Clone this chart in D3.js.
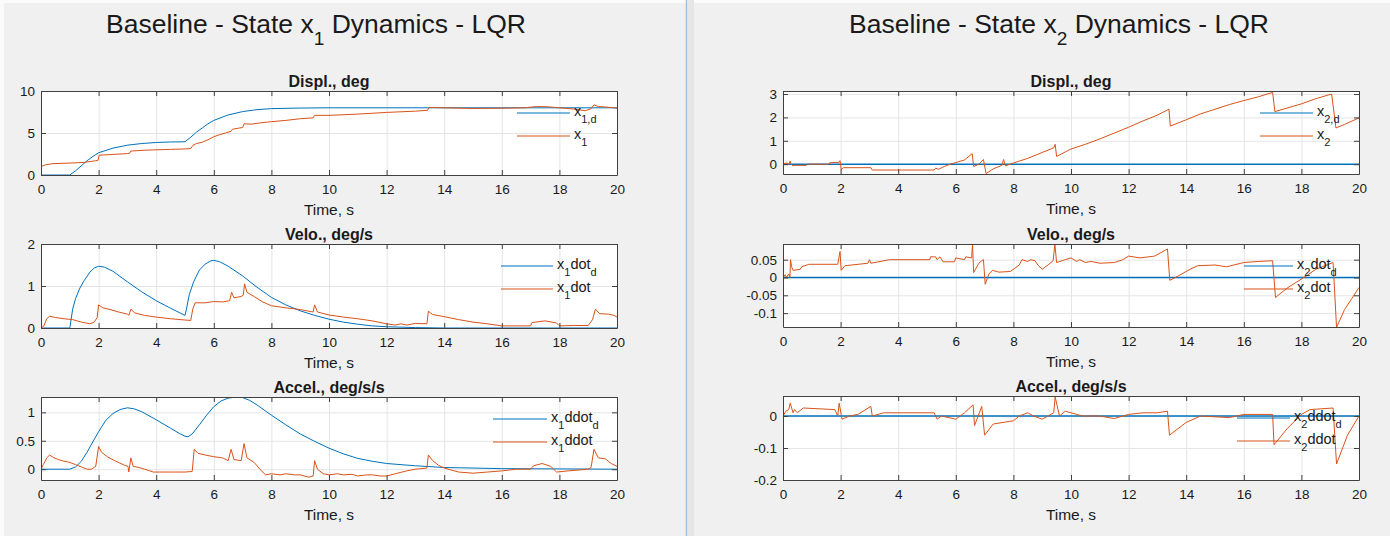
<!DOCTYPE html>
<html>
<head>
<meta charset="utf-8">
<script src="https://cdn.jsdelivr.net/npm/d3@7"></script>
<style>
  body { margin: 0; background: #f0f0f0; }
  text { font-family: "Liberation Sans", Arial, Helvetica, sans-serif; fill: #1a1a1a; }
</style>
</head>
<body>
<svg id="fig"></svg>
<script>
// ---- data: [time s, value] ----
var xTicks = [0, 2, 4, 6, 8, 10, 12, 14, 16, 18, 20];

var x1d_disp = [[0,0],[1,0],[1.2,0.5],[1.4,1.1],[1.6,1.7],[1.8,2.2],[2,2.65],[2.5,3.2],[3,3.55],[3.5,3.75],[4,3.87],[4.5,3.93],[5,3.96],
  [5.2,4.5],[5.4,5.1],[5.6,5.6],[5.8,6.1],[6,6.5],[6.5,7.15],[7,7.55],[7.5,7.78],[8,7.9],[9,7.97],[10,8.0],[20,8.0]];
var x1_disp = [[0,1.0],[0.15,1.2],[0.4,1.35],[1.0,1.42],[1.5,1.5],[1.9,1.7],[1.98,1.75],[2.02,2.35],[2.5,2.45],[3.0,2.55],[3.08,2.6],[3.12,2.85],
  [3.6,2.95],[4.0,3.0],[4.5,3.05],[5.0,3.1],[5.2,3.15],[5.28,3.55],[5.4,3.75],[5.6,3.9],[5.8,4.2],[6.0,4.55],[6.2,4.8],[6.4,5.0],[6.6,5.2],
  [6.65,5.45],[6.9,5.6],[7.0,5.65],[7.05,6.1],[7.3,6.05],[7.6,6.2],[8.0,6.35],[8.5,6.5],[9.0,6.7],[9.45,6.8],[9.5,7.1],[10,7.1],[11,7.25],
  [12,7.45],[13,7.6],[13.42,7.7],[13.48,8.05],[14,8.0],[15,7.92],[16,7.95],[16.8,8.0],[17.2,8.15],[17.6,8.12],[18.0,8.0],[18.5,7.85],
  [18.9,7.65],[19.1,7.9],[19.2,8.35],[19.35,8.15],[19.6,8.1],[20,7.95]];

var x1d_velo = [[0,0],[1,0],[1.1,0.45],[1.2,0.7],[1.35,0.95],[1.5,1.13],[1.7,1.33],[1.85,1.43],[2.0,1.47],[2.2,1.45],[2.5,1.35],[3.0,1.1],
  [3.5,0.86],[4.0,0.65],[4.5,0.47],[5.0,0.3],[5.05,0.45],[5.15,0.8],[5.3,1.1],[5.5,1.38],[5.7,1.52],[5.9,1.6],[6.0,1.61],[6.2,1.58],
  [6.5,1.47],[7.0,1.24],[7.5,0.97],[8.0,0.73],[8.5,0.55],[9.0,0.41],[9.5,0.3],[10,0.21],[10.5,0.14],[11,0.09],[11.5,0.05],[12,0.03],
  [13,0.01],[14,0],[20,0]];
var x1_velo = [[0,0],[0.1,0.05],[0.2,0.22],[0.3,0.28],[0.5,0.25],[0.8,0.22],[1.1,0.2],[1.4,0.14],[1.7,0.1],[1.85,0.14],[1.95,0.25],[2.0,0.55],
  [2.15,0.48],[2.4,0.44],[2.7,0.38],[3.0,0.33],[3.05,0.3],[3.12,0.45],[3.25,0.36],[3.6,0.3],[4.0,0.26],[4.5,0.22],[5.0,0.19],[5.2,0.18],
  [5.27,0.45],[5.35,0.6],[5.7,0.6],[6.0,0.63],[6.3,0.62],[6.55,0.65],[6.62,0.85],[6.7,0.72],[6.95,0.75],[7.02,0.78],[7.07,1.05],[7.15,0.85],
  [7.4,0.75],[7.7,0.62],[8.0,0.53],[8.5,0.48],[9.0,0.44],[9.45,0.38],[9.5,0.55],[9.6,0.38],[10,0.31],[10.5,0.26],[11,0.22],[11.5,0.17],
  [12,0.1],[12.3,0.07],[12.5,0.1],[12.7,0.07],[13,0.11],[13.4,0.1],[13.45,0.4],[13.6,0.32],[14,0.27],[14.5,0.2],[15,0.14],[15.5,0.1],[16,0.05],[16.5,0.05],
  [17.0,0.05],[17.05,0.13],[17.5,0.17],[17.9,0.12],[18.0,0.05],[18.5,0.06],[19.0,0.06],[19.15,0.2],[19.25,0.45],[19.4,0.34],[19.7,0.33],
  [19.9,0.3],[20,0.26]];

var x1d_accel = [[0,0],[1,0],[1.2,0.04],[1.4,0.14],[1.6,0.3],[1.8,0.48],[2.0,0.66],[2.25,0.86],[2.5,0.98],[2.75,1.05],[3.0,1.08],[3.25,1.06],
  [3.5,1.01],[4.0,0.87],[4.5,0.72],[4.8,0.63],[5.0,0.58],[5.1,0.57],[5.25,0.62],[5.5,0.78],[5.75,0.95],[6.0,1.1],[6.25,1.2],[6.5,1.25],
  [6.8,1.27],[7.0,1.26],[7.25,1.21],[7.5,1.13],[8.0,0.95],[8.5,0.78],[9.0,0.62],[9.5,0.49],[10,0.37],[10.5,0.27],[11,0.19],[11.5,0.14],
  [12,0.1],[13,0.06],[14,0.03],[15,0.02],[16,0.01],[18,0.005],[20,0]];
var x1_accel = [[0,0],[0.08,0.08],[0.2,0.2],[0.3,0.25],[0.45,0.2],[0.6,0.17],[0.8,0.14],[1.0,0.12],[1.2,0.08],[1.4,0.04],[1.6,0.0],[1.75,0.0],
  [1.9,0.05],[2.0,0.4],[2.1,0.3],[2.3,0.22],[2.6,0.14],[2.9,0.07],[3.02,0.05],[3.05,-0.05],[3.12,0.2],[3.2,0.05],[3.4,0.03],[3.6,0.0],
  [3.9,-0.05],[4.5,-0.05],[5.0,-0.05],[5.25,-0.04],[5.32,0.35],[5.45,0.28],[5.7,0.25],[6.0,0.22],[6.3,0.2],[6.5,0.15],[6.6,0.35],[6.7,0.17],
  [6.95,0.15],[7.05,0.45],[7.15,0.2],[7.4,0.12],[7.6,0.0],[7.8,-0.1],[8.0,-0.08],[8.3,-0.1],[8.5,-0.08],[8.8,-0.1],[9.0,-0.1],[9.3,-0.14],[9.45,-0.12],[9.5,0.15],
  [9.6,0.0],[9.8,-0.08],[10,-0.1],[10.3,-0.08],[10.5,-0.1],[10.8,-0.09],[11,-0.12],[11.3,-0.1],[11.5,-0.1],[11.8,-0.12],[12,-0.12],[12.3,-0.08],[12.7,-0.03],[13,0.0],[13.4,0.02],[13.45,0.25],
  [13.6,0.15],[13.8,0.07],[14,0.02],[14.5,-0.05],[15,-0.07],[15.5,-0.05],[16,-0.03],[16.5,0.0],[17,0.0],[17.1,0.06],[17.4,0.1],[17.7,0.05],
  [17.9,-0.05],[18.3,-0.03],[19,0.0],[19.1,0.03],[19.2,0.35],[19.35,0.2],[19.6,0.18],[19.8,0.1],[20,0.05]];

var x2d_zero = [[0,0],[20,0]];
var x2_disp = [[0,0.02],[0.15,0.05],[0.2,0.0],[0.25,0.13],[0.28,0.0],[0.32,-0.05],[0.8,-0.05],[0.85,0.0],[1.6,0.0],[1.62,0.06],[1.95,0.08],
  [1.98,0.15],[2.02,-0.22],[2.1,-0.15],[3.05,-0.15],[3.1,-0.25],[5.25,-0.25],[5.3,-0.17],[5.4,-0.22],[5.6,-0.1],[5.8,0.0],[6.0,0.07],
  [6.3,0.18],[6.57,0.45],[6.62,-0.1],[6.8,0.0],[6.96,0.2],[7.05,-0.4],[7.3,-0.2],[7.6,-0.05],[7.66,0.2],[7.72,-0.07],[8.0,0.05],[8.5,0.25],
  [9.0,0.5],[9.4,0.7],[9.45,0.85],[9.5,0.33],[10,0.65],[10.5,0.85],[11,1.08],[11.5,1.33],[12,1.58],[12.5,1.85],[13,2.1],[13.4,2.35],
  [13.45,1.63],[14,1.9],[14.5,2.15],[15,2.35],[15.5,2.55],[16,2.72],[16.5,2.88],[17.0,3.07],[17.08,2.25],[17.5,2.4],[18,2.58],[18.5,2.8],
  [19.05,3.0],[19.2,1.55],[19.5,1.7],[20,1.98]];
var x2_velo = [[0,0],[0.08,0.008],[0.12,0.0],[0.2,0.01],[0.24,0.0],[0.26,0.05],[0.3,0.03],[0.35,0.02],[0.6,0.023],[0.65,0.03],[0.9,0.037],
  [1.9,0.037],[1.98,0.073],[2.02,0.02],[2.15,0.033],[2.95,0.04],[3.0,0.05],[3.05,0.04],[3.7,0.05],[5.1,0.05],[5.12,0.058],[5.3,0.058],
  [5.35,0.05],[5.45,0.058],[5.56,0.044],[5.95,0.044],[6.0,0.055],[6.3,0.05],[6.35,0.058],[6.55,0.055],[6.58,0.094],[6.62,0.014],[6.8,0.04],
  [6.9,0.047],[6.96,0.05],[7.02,-0.019],[7.15,0.01],[7.27,0.02],[7.5,0.015],[7.9,0.017],[8.2,0.035],[8.3,0.05],[8.5,0.045],[8.6,0.05],[8.75,0.047],[8.85,0.035],
  [9.0,0.023],[9.2,0.035],[9.38,0.047],[9.44,0.094],[9.5,0.042],[9.8,0.05],[10,0.055],[10.2,0.045],[10.3,0.05],[10.5,0.042],[10.7,0.045],[11,0.04],[11.5,0.042],[11.8,0.05],[12,0.06],[12.4,0.055],[12.9,0.06],
  [13.35,0.08],[13.43,-0.008],[13.74,0.005],[14.13,0.023],[14.4,0.033],[15,0.035],[15.4,0.03],[16,0.042],[16.5,0.045],[17,0.047],[17.1,-0.056],[17.5,-0.03],
  [18.18,0.005],[18.5,0.023],[19.1,0.042],[19.22,-0.14],[19.5,-0.09],[20,-0.028]];
var x2_accel = [[0,0],[0.1,0.015],[0.2,0.02],[0.25,0.04],[0.35,0.01],[0.4,0.02],[0.5,0.01],[0.7,0.025],[1.8,0.02],[1.9,0.0],[1.95,0.04],
  [2.05,-0.01],[2.3,0.0],[2.6,0.005],[3.05,0.03],[3.1,0.0],[3.5,0.01],[5.25,0.01],[5.35,-0.01],[5.5,0.0],[6.0,-0.01],[6.3,0.01],[6.6,0.035],
  [6.65,-0.03],[6.9,0.03],[7.0,-0.06],[7.3,-0.025],[8.0,-0.015],[8.2,0.0],[8.5,0.01],[8.7,0.0],[9.0,-0.01],[9.4,0.01],[9.45,0.06],[9.6,0.0],[9.8,0.015],[10,0.01],[10.4,0.0],[11,0.0],
  [11.5,-0.008],[12,0.005],[12.5,0.01],[13,0.01],[13.35,0.015],[13.42,-0.06],[14,-0.02],[14.5,0.0],[15.5,-0.005],[16,0.005],[17,0.005],[17.05,-0.09],[17.5,-0.04],[18,0.005],[18.3,0.02],
  [19.1,0.025],[19.22,-0.15],[19.6,-0.06],[20,0.0]];

var blue = "#0072BD", orange = "#D95319";

var W = 1390, H = 536;
var svg = d3.select('#fig').attr('width', W).attr('height', H);

svg.append('rect').attr('width', W).attr('height', H).attr('fill', '#f0f0f0');
svg.append('rect').attr('width', W).attr('height', 3).attr('fill', '#fbfbfb');
svg.append('rect').attr('width', 4).attr('height', H).attr('fill', '#fbfbfb');
svg.append('rect').attr('x', 688).attr('width', 6).attr('height', H).attr('fill', '#e6e6e6');
svg.append('line').attr('x1', 686.5).attr('x2', 686.5).attr('y1', 0).attr('y2', H)
  .attr('stroke', '#9fbfdc').attr('stroke-width', 1.5);

var panels = [
  { cx: 316, sub: '1', x0: 41, x1: 617, plots: [
    { top: 91, bottom: 175, title: 'Displ., deg', dom: [0, 10], ticks: [0, 5, 10],
      series: [x1d_disp, x1_disp], labels: [[['x'], ['1,d', 1]], [['x'], ['1', 1]]], lw: 53, lx: 47 },
    { top: 244, bottom: 328, title: 'Velo., deg/s', dom: [0, 2], ticks: [0, 1, 2],
      series: [x1d_velo, x1_velo], labels: [[['x'], ['1', 1], ['dot'], ['d', 1]], [['x'], ['1', 1], ['dot']]], lw: 52, lx: 64 },
    { top: 397, bottom: 480, title: 'Accel., deg/s/s', dom: [-0.19, 1.27], ticks: [0, 0.5, 1],
      series: [x1d_accel, x1_accel], labels: [[['x'], ['1', 1], ['ddot'], ['d', 1]], [['x'], ['1', 1], ['ddot']]], lw: 54, lx: 70 }
  ]},
  { cx: 1059, sub: '2', x0: 783, x1: 1359, plots: [
    { top: 91, bottom: 174, title: 'Displ., deg', dom: [-0.42, 3.13], ticks: [0, 1, 2, 3],
      series: [x2d_zero, x2_disp], labels: [[['x'], ['2,d', 1]], [['x'], ['2', 1]]], lw: 53, lx: 46 },
    { top: 244, bottom: 327, title: 'Velo., deg/s', dom: [-0.139, 0.094], ticks: [-0.1, -0.05, 0, 0.05],
      series: [x2d_zero, x2_velo], labels: [[['x'], ['2', 1], ['dot'], ['d', 1]], [['x'], ['2', 1], ['dot']]], lw: 49, lx: 66 },
    { top: 396, bottom: 480, title: 'Accel., deg/s/s', dom: [-0.2, 0.0625], ticks: [-0.2, -0.1, 0],
      series: [x2d_zero, x2_accel], labels: [[['x'], ['2', 1], ['ddot'], ['d', 1]], [['x'], ['2', 1], ['ddot']]], lw: 53, lx: 69 }
  ]}
];

function addRich(sel, parts, subSize, shift) {
  var cur = 0;
  parts.forEach(function(p) {
    var dy = p[1] ? shift - cur : -cur;
    var t = sel.append('tspan').text(p[0]).attr('dy', dy);
    if (p[1]) t.attr('font-size', subSize);
    cur = p[1] ? shift : 0;
  });
}

var clipId = 0;
panels.forEach(function(pan) {
  var title = svg.append('text').attr('x', pan.cx).attr('y', 33)
    .attr('text-anchor', 'middle').attr('font-size', 26.5);
  addRich(title, [['Baseline - State x'], [pan.sub, 1], [' Dynamics - LQR']], 19, 12);

  pan.plots.forEach(function(p) {
    var x = d3.scaleLinear().domain([0, 20]).range([pan.x0, pan.x1]);
    var y = d3.scaleLinear().domain(p.dom).range([p.bottom, p.top]);
    var g = svg.append('g');
    var h = p.bottom - p.top;

    g.append('rect').attr('x', pan.x0).attr('y', p.top)
      .attr('width', pan.x1 - pan.x0).attr('height', h).attr('fill', '#fff');

    // grid
    g.append('g').attr('transform', 'translate(0,' + p.bottom + ')')
      .call(d3.axisBottom(x).tickValues(xTicks).tickSize(-h).tickFormat(''))
      .call(function(a) { a.select('.domain').remove(); a.selectAll('line').attr('stroke', '#e5e5e5'); });
    g.append('g').attr('transform', 'translate(' + pan.x0 + ',0)')
      .call(d3.axisLeft(y).tickValues(p.ticks).tickSize(-(pan.x1 - pan.x0)).tickFormat(''))
      .call(function(a) { a.select('.domain').remove(); a.selectAll('line').attr('stroke', '#e5e5e5'); });

    // lines
    var cid = 'c' + (clipId++);
    svg.append('clipPath').attr('id', cid).append('rect')
      .attr('x', pan.x0).attr('y', p.top).attr('width', pan.x1 - pan.x0).attr('height', h);
    var line = d3.line().x(function(d) { return x(d[0]); }).y(function(d) { return y(d[1]); });
    var cols = [blue, orange];
    p.series.forEach(function(s, i) {
      g.append('path').datum(s).attr('d', line).attr('fill', 'none')
        .attr('stroke', cols[i]).attr('stroke-width', s === x2d_zero ? 1.6 : 1)
        .attr('clip-path', 'url(#' + cid + ')');
    });

    // box with inward ticks on all sides
    function style(a) {
      a.select('.domain').attr('stroke', '#404040');
      a.selectAll('.tick line').attr('stroke', '#404040');
      a.selectAll('text').attr('font-family', '"Liberation Sans", Arial, sans-serif')
        .attr('font-size', 13.5).attr('fill', '#262626');
    }
    g.append('g').attr('transform', 'translate(0,' + p.bottom + ')')
      .call(d3.axisBottom(x).tickValues(xTicks).tickSizeInner(-5).tickSizeOuter(0).tickPadding(9).tickFormat(String))
      .call(style);
    g.append('g').attr('transform', 'translate(0,' + p.top + ')')
      .call(d3.axisTop(x).tickValues(xTicks).tickSizeInner(-5).tickSizeOuter(0).tickFormat(''))
      .call(style);
    g.append('g').attr('transform', 'translate(' + pan.x0 + ',0)')
      .call(d3.axisLeft(y).tickValues(p.ticks).tickSizeInner(-5).tickSizeOuter(0).tickPadding(6).tickFormat(String))
      .call(style);
    g.append('g').attr('transform', 'translate(' + pan.x1 + ',0)')
      .call(d3.axisRight(y).tickValues(p.ticks).tickSizeInner(-5).tickSizeOuter(0).tickFormat(''))
      .call(style);

    // titles
    var mid = (pan.x0 + pan.x1) / 2;
    g.append('text').attr('x', mid).attr('y', p.top - 4).attr('text-anchor', 'middle')
      .attr('font-size', 16).attr('font-weight', 'bold').text(p.title);
    g.append('text').attr('x', mid).attr('y', p.bottom + 40).attr('text-anchor', 'middle')
      .attr('font-size', 15.5).text('Time, s');

    // legend (no box)
    var lx2 = pan.x1 - p.lx, lx1 = lx2 - p.lw;
    var ly = [p.top + 22, p.top + 45];
    p.labels.forEach(function(lab, i) {
      g.append('line').attr('x1', lx1).attr('x2', lx2).attr('y1', ly[i]).attr('y2', ly[i])
        .attr('stroke', cols[i]).attr('stroke-width', 1.2);
      var t = g.append('text').attr('x', lx2 + 4).attr('y', ly[i] + 3).attr('font-size', 14.5);
      addRich(t, lab, 11, 7);
    });
  });
});
</script>
</body>
</html>
